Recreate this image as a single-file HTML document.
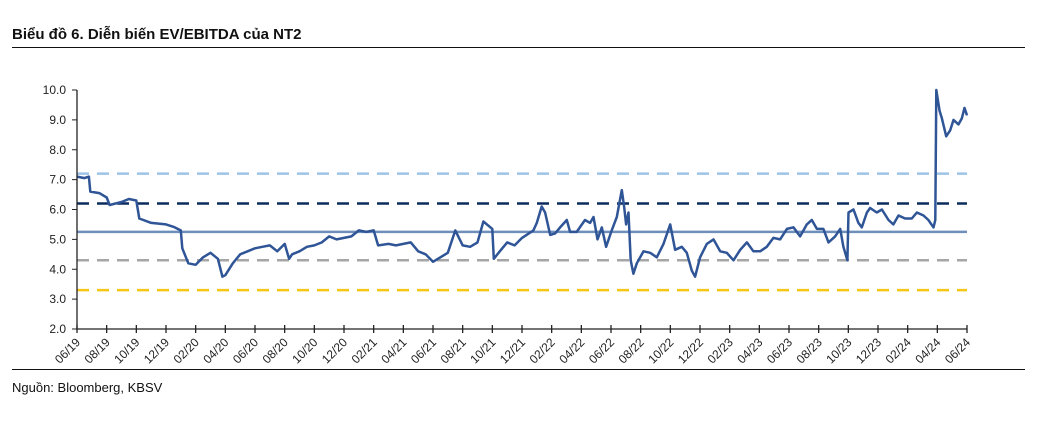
<!DOCTYPE html>
<html><head><meta charset="utf-8"><style>
body{margin:0;background:#fff;width:1037px;height:440px;overflow:hidden;font-family:"Liberation Sans",sans-serif}
</style></head><body>
<svg width="1037" height="440" xmlns="http://www.w3.org/2000/svg">
<text x="12" y="39" font-size="15" font-weight="bold" fill="#111">Biểu đồ 6. Diễn biến EV/EBITDA của NT2</text>
<line x1="12" y1="47.5" x2="1025" y2="47.5" stroke="#111" stroke-width="1"/>
<line x1="12" y1="369.5" x2="1025" y2="369.5" stroke="#111" stroke-width="1"/>
<text x="12" y="392" font-size="13" fill="#111">Nguồn: Bloomberg, KBSV</text>
<g id="plot"></g>
</svg>
<script>
const xTickLabels=["06/19","08/19","10/19","12/19","02/20","04/20","06/20","08/20","10/20","12/20","02/21","04/21","06/21","08/21","10/21","12/21","02/22","04/22","06/22","08/22","10/22","12/22","02/23","04/23","06/23","08/23","10/23","12/23","02/24","04/24","06/24"];
const yTicks=[2,3,4,5,6,7,8,9,10];
const refValues=[7.2,6.2,5.25,4.3,3.3];
const months=[0,0.5,0.8,0.9,1.5,2,2.2,3,3.5,4,4.2,5,6,6.5,7,7.1,7.5,8,8.5,9,9.5,9.8,10,10.5,11,11.5,12,12.5,13,13.5,14,14.3,14.5,15,15.5,16,16.5,17,17.5,18,18.5,19,19.5,20,20.3,21,21.5,22,22.5,23,23.5,24,24.5,25,25.5,26,26.5,27,27.4,28,28.1,28.5,29,29.5,30,30.77,31,31.33,31.56,31.9,32.23,32.57,33.02,33.24,33.69,34.25,34.59,34.82,35.09,35.38,35.67,36.05,36.39,36.73,36.88,37.02,37.18,37.33,37.51,37.74,38.19,38.64,39.09,39.54,39.99,40.32,40.77,41.11,41.45,41.67,42.01,42.46,42.91,43.36,43.81,44.26,44.71,45.16,45.6,46.06,46.5,46.95,47.4,47.86,48.3,48.75,49.2,49.54,49.88,50.32,50.66,51.11,51.45,51.67,51.94,52.01,52.35,52.68,52.91,53.25,53.47,53.92,54.26,54.71,55.04,55.38,55.83,56.28,56.62,57.07,57.4,57.74,57.86,57.93,58.15,58.31,58.6,58.87,59.09,59.43,59.65,59.83,60];
const evEbitda=[7.1,7.05,7.1,6.6,6.55,6.4,6.15,6.25,6.35,6.3,5.7,5.55,5.5,5.42,5.3,4.7,4.2,4.15,4.4,4.55,4.35,3.75,3.8,4.2,4.5,4.6,4.7,4.75,4.8,4.6,4.85,4.35,4.5,4.6,4.75,4.8,4.9,5.1,5.0,5.05,5.1,5.3,5.25,5.3,4.8,4.85,4.8,4.85,4.9,4.6,4.5,4.25,4.4,4.55,5.3,4.8,4.75,4.9,5.6,5.35,4.35,4.6,4.9,4.8,5.05,5.3,5.55,6.1,5.9,5.15,5.2,5.4,5.65,5.25,5.25,5.65,5.55,5.75,5.0,5.4,4.75,5.3,5.75,6.65,6.1,5.5,5.9,4.3,3.85,4.2,4.6,4.55,4.4,4.85,5.5,4.65,4.75,4.55,3.95,3.75,4.4,4.85,5.0,4.6,4.55,4.3,4.65,4.9,4.6,4.6,4.75,5.05,5.0,5.35,5.4,5.1,5.5,5.65,5.35,5.35,4.9,5.1,5.35,4.75,4.3,5.9,6.0,5.55,5.4,5.9,6.05,5.9,6.0,5.65,5.5,5.8,5.7,5.7,5.9,5.8,5.65,5.4,5.65,10,9.3,9.05,8.45,8.65,9.0,8.85,9.05,9.4,9.15,9.55];
const refColors=["#9dc3e6","#0b2a5e","#6f8fbb","#a6a6a6","#f5c518"];
const NS="http://www.w3.org/2000/svg";
const g=document.getElementById('plot');
const X0=77,X1=967,Y0=329,Y1=90;
const xs=m=>X0+(X1-X0)*m/60;
const ys=v=>Y0-(Y0-Y1)*(v-2)/8;
function mk(tag,attrs){const e=document.createElementNS(NS,tag);for(const k in attrs)e.setAttribute(k,attrs[k]);g.appendChild(e);return e;}
yTicks.forEach(v=>{
 const t=mk('line',{x1:X0-5,x2:X0,y1:ys(v),y2:ys(v),stroke:'#222'});
 
 
 const l=mk('text',{x:X0-11,y:ys(v)+4,'font-size':12,'text-anchor':'end',fill:'#222'});
 l.textContent=v.toFixed(1);
 
 
});
refValues.forEach((v,i)=>{
 const a={x1:X0,x2:X1,y1:ys(v),y2:ys(v),stroke:refColors[i],'stroke-width':2.5};
 if(i!=2)a['stroke-dasharray']='12 8';
 const r=mk('line',a);
 
 
});
const p=mk('polyline',{points:months.map((m,i)=>xs(m).toFixed(1)+','+ys(evEbitda[i]).toFixed(1)).join(' '),fill:'none',stroke:'#2f5597','stroke-width':2.5,'stroke-linejoin':'round'});


const ya=mk('line',{x1:X0,x2:X0,y1:Y1,y2:Y0,stroke:'#222','stroke-width':1.3});


const xa=mk('line',{x1:X0,x2:X1,y1:Y0,y2:Y0,stroke:'#222','stroke-width':1.3});


xTickLabels.forEach((s,i)=>{
 const x=xs(i*2);
 const t=mk('line',{x1:x,x2:x,y1:Y0-4,y2:Y0+4,stroke:'#222','stroke-width':1.3});
 
 
 const l=mk('text',{x:x+4,y:Y0+14,'font-size':12,'text-anchor':'end',fill:'#222',transform:`rotate(-45 ${x+4} ${Y0+14})`});
 l.textContent=s;
 
 
});
</script>
</body></html>
